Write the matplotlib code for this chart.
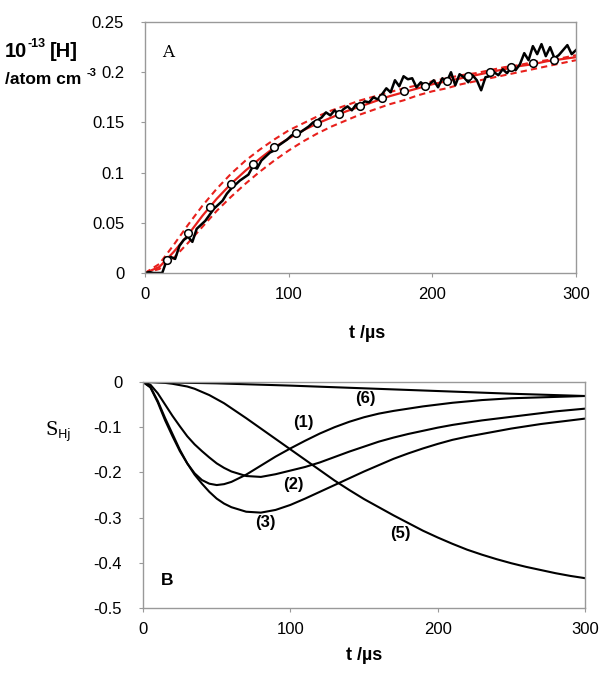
import numpy as np
import matplotlib.pyplot as plt

plt.rcParams['font.family'] = ['Liberation Sans', 'DejaVu Sans']

# Panel A: measured [H] trace (every 3 us), sampled points and model fits
trace_step = 3
trace_h = [0.0, 0.001, 0.0, 0.0, 0.0, 0.012, 0.016, 0.014, 0.027, 0.033,
           0.036, 0.031, 0.044, 0.048, 0.052, 0.058, 0.064, 0.068, 0.072, 0.079,
           0.084, 0.088, 0.092, 0.095, 0.098, 0.106, 0.104, 0.112, 0.116, 0.120,
           0.122, 0.127, 0.130, 0.133, 0.137, 0.139, 0.140, 0.143, 0.146, 0.150,
           0.152, 0.155, 0.160, 0.157, 0.162, 0.158, 0.163, 0.166, 0.162, 0.168,
           0.167, 0.171, 0.170, 0.175, 0.173, 0.178, 0.184, 0.180, 0.192, 0.186,
           0.196, 0.193, 0.194, 0.185, 0.190, 0.186, 0.188, 0.192, 0.185, 0.194,
           0.190, 0.200, 0.187, 0.198, 0.195, 0.190, 0.197, 0.192, 0.182, 0.195,
           0.196, 0.200, 0.197, 0.203, 0.199, 0.205, 0.202, 0.208, 0.219, 0.212,
           0.226, 0.218, 0.228, 0.216, 0.225, 0.214, 0.217, 0.222, 0.227, 0.218,
           0.222]

point_t = [15, 30, 45, 60, 75, 90, 105, 120, 135, 150, 165, 180, 195, 210,
           225, 240, 255, 270, 285]
point_h = [0.013, 0.0395, 0.066, 0.089, 0.1086, 0.126, 0.139, 0.149, 0.158,
           0.166, 0.174, 0.181, 0.186, 0.191, 0.196, 0.2005, 0.2055, 0.209, 0.212]

fit_t = list(range(0, 301, 10))
fit_mid = [0.0, 0.006, 0.021, 0.038, 0.057, 0.074, 0.089, 0.102, 0.114, 0.125,
           0.134, 0.142, 0.149, 0.155, 0.161, 0.166, 0.171, 0.176, 0.180, 0.184,
           0.188, 0.191, 0.194, 0.197, 0.200, 0.203, 0.206, 0.208, 0.211, 0.213,
           0.215]
fit_upper = [0.0, 0.009, 0.028, 0.048, 0.067, 0.084, 0.099, 0.112, 0.123, 0.133,
             0.142, 0.149, 0.156, 0.162, 0.167, 0.172, 0.176, 0.180, 0.184, 0.187,
             0.191, 0.194, 0.197, 0.199, 0.202, 0.205, 0.207, 0.210, 0.212, 0.214,
             0.217]
fit_lower = [0.0, 0.004, 0.015, 0.030, 0.046, 0.062, 0.076, 0.089, 0.101, 0.112,
             0.122, 0.131, 0.139, 0.146, 0.152, 0.158, 0.163, 0.168, 0.172, 0.177,
             0.181, 0.184, 0.188, 0.191, 0.194, 0.197, 0.200, 0.203, 0.206, 0.209,
             0.212]

# Panel B: sensitivity coefficients (5 us steps up to 60, then 10 us)
sens_t = [0, 5, 10, 15, 20, 25, 30, 35, 40, 45, 50, 55, 60, 70, 80, 90, 100,
          110, 120, 130, 140, 150, 160, 170, 180, 190, 200, 210, 220, 230, 240,
          250, 260, 270, 280, 290, 300]
sens_1 = [0.0, -0.012, -0.045, -0.085, -0.12, -0.153, -0.18, -0.202, -0.217, -0.225,
          -0.228, -0.226, -0.221, -0.205, -0.185, -0.165, -0.147, -0.13, -0.114,
          -0.1, -0.088, -0.078, -0.070, -0.064, -0.059, -0.054, -0.050, -0.046,
          -0.043, -0.040, -0.038, -0.036, -0.035, -0.034, -0.033, -0.032, -0.031]
sens_2 = [0.0, -0.006, -0.025, -0.05, -0.075, -0.098, -0.12, -0.138, -0.153, -0.167,
          -0.18, -0.19, -0.198, -0.208, -0.21, -0.204, -0.196, -0.188, -0.178,
          -0.166, -0.154, -0.143, -0.132, -0.123, -0.115, -0.108, -0.101, -0.095,
          -0.090, -0.085, -0.081, -0.077, -0.073, -0.069, -0.065, -0.062, -0.059]
sens_3 = [0.0, -0.011, -0.042, -0.08, -0.115, -0.15, -0.18, -0.205, -0.225, -0.243,
          -0.258, -0.269, -0.277, -0.287, -0.289, -0.283, -0.272, -0.258, -0.243,
          -0.228, -0.213, -0.198, -0.184, -0.170, -0.158, -0.147, -0.137, -0.128,
          -0.121, -0.115, -0.109, -0.103, -0.098, -0.093, -0.089, -0.085, -0.081]
sens_5 = [0.0, 0.0, -0.001, -0.002, -0.004, -0.007, -0.010, -0.015, -0.022, -0.029,
          -0.038, -0.047, -0.058, -0.080, -0.103, -0.126, -0.149, -0.172, -0.195,
          -0.218, -0.239, -0.259, -0.277, -0.295, -0.312, -0.329, -0.344, -0.358,
          -0.371, -0.382, -0.392, -0.401, -0.409, -0.416, -0.423, -0.429, -0.434]
sens6_t = [0, 50, 100, 150, 200, 250, 300]
sens_6 = [0.0, -0.003, -0.008, -0.014, -0.020, -0.026, -0.031]

curve_labels = ['(1)', '(2)', '(3)', '(5)', '(6)']
label_pos = [(109, -0.09), (102, -0.226), (83, -0.311), (175, -0.335), (151, -0.037)]

frame_color = '#999999'

fig = plt.figure(figsize=(6.04, 6.82), dpi=100)

# Top panel
ax_a = fig.add_axes([0.240, 0.5997, 0.7136, 0.368])
trace_t = np.arange(len(trace_h)) * trace_step
ax_a.plot(fit_t, fit_upper, color='#e8201c', lw=1.5, ls=(0, (3, 2)))
ax_a.plot(fit_t, fit_lower, color='#e8201c', lw=1.5, ls=(0, (3, 2)))
ax_a.plot(fit_t, fit_mid, color='#e8201c', lw=1.6)
ax_a.plot(trace_t, trace_h, color='black', lw=1.8)
ax_a.plot(point_t, point_h, 'o', ms=5.5, mfc='white', mec='black', mew=1.1)
ax_a.set_xlim(0, 300)
ax_a.set_ylim(0, 0.25)
ax_a.set_xticks([0, 100, 200, 300])
ax_a.set_yticks([0, 0.05, 0.1, 0.15, 0.2, 0.25])
ax_a.set_yticklabels(['0', '0.05', '0.1', '0.15', '0.2', '0.25'])
ax_a.text(15.8, 0.22, 'A', family='DejaVu Serif', fontsize=12, ha='center', va='center')

# y label of panel A, written in pieces so the superscripts keep plain hyphens
fig.text(5 / 604, 1 - 57 / 682, '10', fontsize=14.5, fontweight='bold', va='baseline')
fig.text(27 / 604, 1 - 47 / 682, '-13', fontsize=9, fontweight='bold', va='baseline')
fig.text(50 / 604, 1 - 57 / 682, '[H]', fontsize=14.5, fontweight='bold', va='baseline')
fig.text(5 / 604, 1 - 84 / 682, '/atom cm', fontsize=12.5, fontweight='bold', va='baseline')
fig.text(87 / 604, 1 - 76 / 682, '-3', fontsize=8, fontweight='bold', va='baseline')
fig.text(367 / 604, 1 - 333 / 682, 't /µs', fontsize=13, fontweight='bold',
         ha='center', va='center')

# Bottom panel
ax_b = fig.add_axes([0.2368, 0.1085, 0.7318, 0.3314])
for vals in [sens_1, sens_2, sens_3, sens_5]:
    ax_b.plot(sens_t, vals, color='black', lw=1.5)
ax_b.plot(sens6_t, sens_6, color='black', lw=1.5)
for lab, (lx, ly) in zip(curve_labels, label_pos):
    ax_b.text(lx, ly, lab, fontsize=12, fontweight='bold', ha='center', va='center')
ax_b.text(16.4, -0.44, 'B', fontsize=12.5, fontweight='bold', ha='center', va='center')
ax_b.set_xlim(0, 300)
ax_b.set_ylim(-0.5, 0)
ax_b.set_xticks([0, 100, 200, 300])
ax_b.set_yticks([0, -0.1, -0.2, -0.3, -0.4, -0.5])
ax_b.set_yticklabels(['0', '-0.1', '-0.2', '-0.3', '-0.4', '-0.5'])
ax_b.set_xlabel('t /µs', fontsize=13, fontweight='bold', labelpad=7)
fig.text(45 / 604, 1 - 432 / 682, r'S$_{\mathrm{Hj}}$', family='DejaVu Serif',
         fontsize=13, va='center')

for ax in (ax_a, ax_b):
    for sp in ax.spines.values():
        sp.set_color(frame_color)
        sp.set_linewidth(1.0)
    ax.tick_params(direction='out', length=3, color=frame_color, labelsize=12)
    ax.tick_params(axis='x', pad=7)
    ax.tick_params(axis='y', pad=12)

fig.savefig('out.png', dpi=100)
